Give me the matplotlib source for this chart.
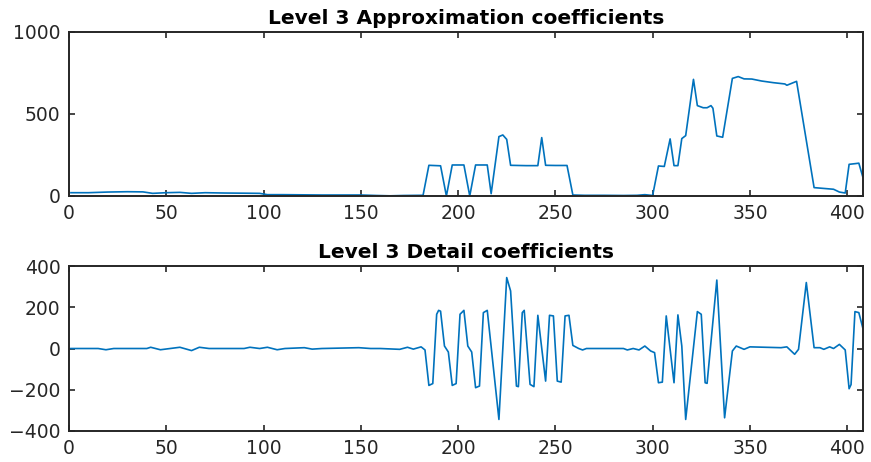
import matplotlib
matplotlib.use('Agg')
import matplotlib.pyplot as plt

# approximation coefficients (sample index, value)
approx_x = [1, 10, 20, 30, 38, 43, 50, 57, 63, 70,
            80, 90, 98, 102, 110, 120, 130, 140, 150, 158,
            165, 172, 180, 182, 185, 191, 194, 197, 203, 206,
            209, 215, 217, 221, 223, 225, 227, 235, 241, 243,
            245, 250, 256, 259, 265, 275, 285, 292, 296, 300,
            303, 306, 309, 311, 313, 315, 317, 321, 323, 326,
            328, 330, 331, 333, 336, 341, 344, 347, 351, 356,
            362, 368, 369, 374, 383, 387, 393, 396, 399, 401,
            404, 406, 408]
approx_y = [20, 20, 24, 26, 25, 16, 20, 22, 16, 20,
            18, 17, 16, 8, 8, 7, 6, 6, 6, 3,
            1, 3, 4, 4, 187, 184, 0, 189, 189, 0,
            189, 189, 14, 362, 372, 345, 187, 185, 185, 356,
            187, 186, 186, 6, 4, 4, 3, 4, 8, 3,
            183, 180, 348, 185, 185, 350, 368, 711, 551, 538,
            538, 551, 535, 366, 358, 717, 728, 714, 713, 701,
            691, 683, 675, 699, 51, 47, 41, 24, 18, 193,
            197, 200, 118]

# detail coefficients
detail_x = [1, 15, 19, 23, 40, 42, 47, 52, 57, 63,
            67, 72, 90, 93, 98, 102, 107, 111, 121, 125,
            130, 149, 155, 160, 170, 174, 177, 181, 183, 185,
            187, 189, 190, 191, 193, 195, 197, 199, 201, 203,
            205, 207, 209, 211, 213, 215, 221, 225, 227, 230,
            231, 233, 234, 237, 239, 241, 245, 247, 249, 251,
            253, 255, 257, 259, 262, 264, 266, 285, 287, 290,
            293, 296, 299, 301, 303, 305, 307, 311, 313, 315,
            317, 323, 325, 327, 328, 333, 337, 341, 343, 347,
            350, 366, 369, 373, 375, 379, 383, 386, 388, 391,
            393, 396, 399, 401, 402, 404, 406, 408]
detail_y = [0, 0, -6, 0, 0, 6, -6, 0, 6, -10,
            6, 0, 0, 6, 0, 6, -6, 0, 4, -3,
            0, 4, 0, 0, -4, 6, -3, 8, -7, -179,
            -170, 166, 185, 181, 12, -17, -179, -170, 166, 185,
            12, -17, -190, -182, 174, 185, -344, 344, 279, -182,
            -185, 174, 185, -174, -185, 161, -158, 161, 158, -158,
            -163, 158, 161, 15, 0, -7, 0, 0, -7, 0,
            -7, 12, -12, -20, -166, -163, 158, -166, 163, 12,
            -344, 179, 166, -166, -169, 332, -336, -12, 12, -4,
            8, 4, 8, -28, -4, 320, 4, 4, -4, 8,
            0, 20, -7, -195, -175, 179, 174, 101]

x_ticks = [0, 50, 100, 150, 200, 250, 300, 350, 400]
approx_ticks = [0, 500, 1000]
detail_ticks = [-400, -200, 0, 200, 400]

line_color = '#0072BD'
axis_color = '#262626'

plt.rcParams['font.family'] = ['DejaVu Sans']

fig = plt.figure(figsize=(8.71, 4.62), dpi=100)
ax1 = fig.add_axes([0.0792, 0.5758, 0.9113, 0.3550])
ax2 = fig.add_axes([0.0792, 0.0671, 0.9113, 0.3571])


def style_axes(ax, yticks, title):
    ax.set_xlim(0, 408)
    ax.set_xticks(x_ticks)
    ax.set_yticks(yticks)
    ax.set_ylim(yticks[0], yticks[-1])
    ax.tick_params(direction='in', top=True, right=True, length=4, width=1.2,
                   colors=axis_color, labelsize=13.5, pad=6)
    for s in ax.spines.values():
        s.set_color(axis_color)
        s.set_linewidth(1.4)
    ax.set_title(title, fontsize=14.5, fontweight='bold', pad=6)


ax1.plot(approx_x, approx_y, color=line_color, lw=1.2)
style_axes(ax1, approx_ticks, 'Level 3 Approximation coefficients')

ax2.plot(detail_x, detail_y, color=line_color, lw=1.2)
style_axes(ax2, detail_ticks, 'Level 3 Detail coefficients')

fig.savefig('out.png', dpi=100)
